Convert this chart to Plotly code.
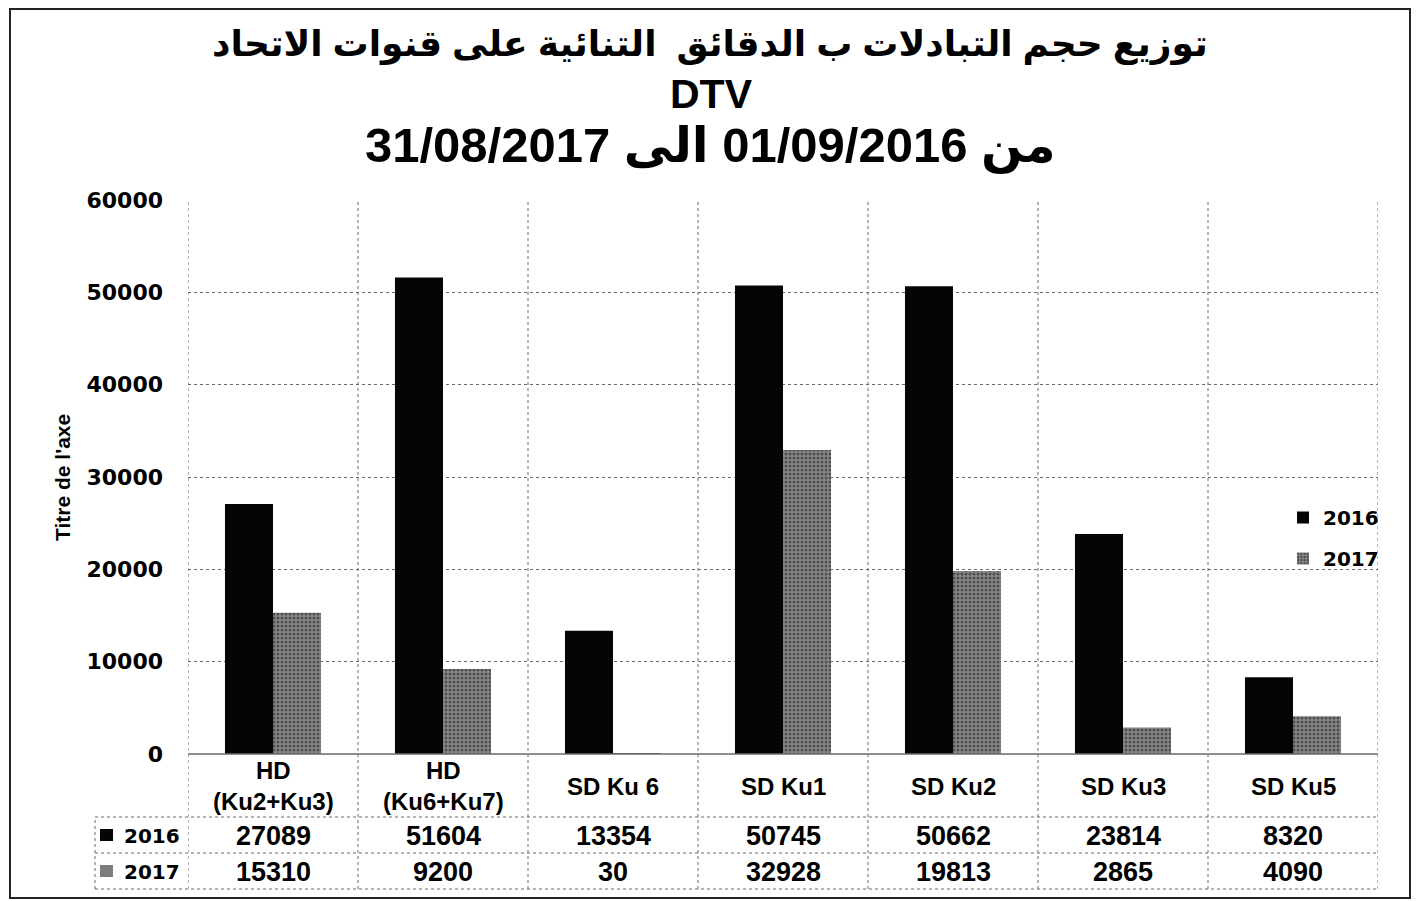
import plotly.graph_objects as go

# data
categories = ["HD<br>(Ku2+Ku3)", "HD<br>(Ku6+Ku7)", "SD Ku 6", "SD Ku1", "SD Ku2", "SD Ku3", "SD Ku5"]
series_names = ["2016", "2017"]
values_2016 = [27089, 51604, 13354, 50745, 50662, 23814, 8320]
values_2017 = [15310, 9200, 30, 32928, 19813, 2865, 4090]
y_ticks = [0, 10000, 20000, 30000, 40000, 50000, 60000]

title_line1 = "توزيع حجم التبادلات ب الدقائق  التنائية على قنوات الاتحاد"
title_line2 = "DTV"
title_line3 = "من 01/09/2016 الى 31/08/2017"
y_title = "Titre de l'axe"

# the page puts the figure 8px in from the top-left corner
OFF = 8
W, H = 1420 - OFF, 901 - OFF
PL, PR, PT, PB = 188, 1378, 200, 754   # plot area, in screen pixels


def px(x):
    return (x - PL) / (PR - PL)


def py(y):
    return (PB - y) / (PB - PT)


RLE, PDF = "\u202b", "\u202c"
ARIAL = "Liberation Sans, DejaVu Sans, Arial"
VERD = "DejaVu Sans, Verdana"
GRID = "#6a6a6a"

idx = list(range(len(categories)))

fig = go.Figure()
fig.add_trace(go.Bar(
    x=idx, y=values_2016, name=series_names[0],
    marker=dict(color="#050505", line_width=0),
    legendgroup="a",
))
fig.add_trace(go.Bar(
    x=idx, y=values_2017, name=series_names[1],
    marker=dict(color="#7a7a7a", line_width=0,
                pattern=dict(shape=".", fgcolor="#111111", bgcolor="#888888", size=4, solidity=0.45)),
    legendgroup="b",
))

fig.update_layout(
    width=W, height=H,
    margin=dict(l=PL - OFF, r=W - (PR - OFF), t=PT - OFF, b=H - (PB - OFF)),
    paper_bgcolor="white", plot_bgcolor="white",
    barmode="group", bargap=0.435, bargroupgap=0,
    font=dict(family=ARIAL, color="black"),
    legend=dict(x=px(1283), y=py(498), xanchor="left", yanchor="top",
                font=dict(family=VERD, size=20, color="black", weight="bold"),
                traceorder="grouped", tracegroupgap=12, bgcolor="rgba(0,0,0,0)"),
    showlegend=True,
)
fig.update_xaxes(range=[-0.5, len(categories) - 0.5], showticklabels=False, showgrid=False,
                 zeroline=False, showline=False, ticks="")
fig.update_yaxes(range=[0, 60000], tickvals=y_ticks, ticktext=[str(v) for v in y_ticks],
                 tickfont=dict(family=VERD, size=22, color="black", weight="bold"),
                 ticklabelstandoff=24, showgrid=True, gridcolor=GRID, gridwidth=1, griddash="dot",
                 zeroline=False, showline=False, ticks="")

shapes = []
ann = []


def label(text, x, y, size, family=ARIAL, xref="paper", xanchor="center", angle=0):
    ann.append(dict(text="<b>" + text + "</b>", x=x, y=y, xref=xref, yref="paper",
                    xanchor=xanchor, yanchor="middle", textangle=angle, showarrow=False,
                    font=dict(family=family, size=size, color="black")))


# vertical table / category separators
for i in range(len(categories) + 1):
    shapes.append(dict(type="line", xref="x", yref="paper", x0=i - 0.5, x1=i - 0.5,
                       y0=py(889), y1=1, line=dict(color=GRID, width=1, dash="dot")))
# horizontal table lines
shapes.append(dict(type="line", xref="paper", yref="paper", x0=0, x1=1, y0=0, y1=0,
                   line=dict(color=GRID, width=1.5)))
for yy in [817, 853, 889]:
    shapes.append(dict(type="line", xref="paper", yref="paper", x0=px(95), x1=1, y0=py(yy), y1=py(yy),
                       line=dict(color=GRID, width=1, dash="dot")))
shapes.append(dict(type="line", xref="paper", yref="paper", x0=px(95), x1=px(95), y0=py(889), y1=py(817),
                   line=dict(color=GRID, width=1, dash="dot")))
# table keys
shapes.append(dict(type="rect", xref="paper", yref="paper", x0=px(100), x1=px(113), y0=py(841), y1=py(829),
                   fillcolor="#050505", line_width=0))
shapes.append(dict(type="rect", xref="paper", yref="paper", x0=px(100), x1=px(113), y0=py(877), y1=py(865),
                   fillcolor="#7d7d7d", line_width=0))
# outer border
shapes.append(dict(type="rect", xref="paper", yref="paper", x0=px(10), x1=px(1410), y0=py(898), y1=py(9),
                   line=dict(color="#222", width=2), fillcolor="rgba(0,0,0,0)"))

# title
label(RLE + title_line1 + PDF, px(710), py(44), 36)
label(title_line2, px(711), py(94), 41)
label(RLE + title_line3 + PDF, px(710), py(146), 49)
# y title
label(y_title, px(62), py(478), 21, family="Liberation Sans Narrow, Liberation Sans", angle=-90)

# data table
for i, cat in enumerate(categories):
    label(cat, i, py(786), 24, xref="x")
    label(str(values_2016[i]), i, py(836), 27, xref="x")
    label(str(values_2017[i]), i, py(872), 27, xref="x")
for name, yy in zip(series_names, [836, 872]):
    label(name, px(122), py(yy), 20, family=VERD, xanchor="left")

fig.update_layout(shapes=shapes, annotations=ann)

fig.write_html("out.html")
